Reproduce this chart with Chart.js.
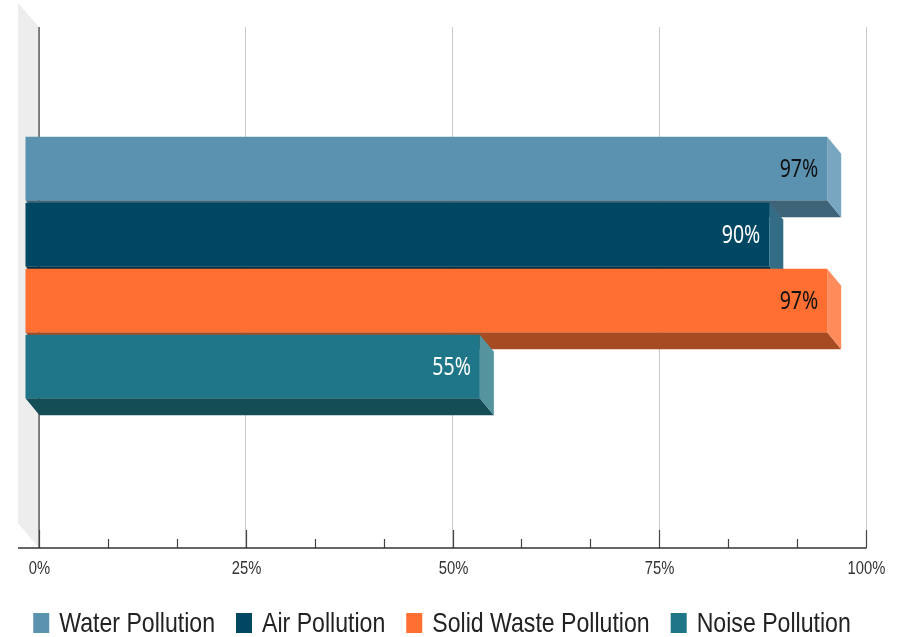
<!DOCTYPE html>
<html>
<head>
<meta charset="utf-8">
<style>
    html, body { margin: 0; padding: 0; background: #fff; }
    canvas { display: block; }
</style>
<script src="https://cdn.jsdelivr.net/npm/chart.js@4/dist/chart.umd.min.js"></script>
</head>
<body>
<canvas id="pollution_chart" width="898" height="637"></canvas>
<script>
const categories = [""];
const series_names = ["Water Pollution", "Air Pollution", "Solid Waste Pollution", "Noise Pollution"];
const series_values = [97, 90, 97, 55];
const tick_labels = ["0%", "25%", "50%", "75%", "100%"];

const front_colors = ["#5b92b0", "#004763", "#ff6f31", "#1f7688"];
const side_colors = ["#78a6c0", "#336d85", "#ff8c5a", "#55939f"];
const bottom_colors = ["#3e6479", "#003043", "#a64b22", "#154d57"];
const label_colors = ["#111111", "#ffffff", "#111111", "#ffffff"];

// 3d look: faces go back by this much, the fronts are moved forward from the axis plane
const depth_x = 14;
const depth_y = 17;
const front_x = -14;
const front_y = -20;

function polygon(ctx, points, color) {
    ctx.fillStyle = color;
    ctx.beginPath();
    points.forEach((p, i) => i == 0 ? ctx.moveTo(p[0], p[1]) : ctx.lineTo(p[0], p[1]));
    ctx.closePath();
    ctx.fill();
}

// no narrow fonts installed, so squeeze the text sideways
function narrow_text(ctx, text, x, y, font, color, align, squeeze) {
    ctx.save();
    ctx.translate(x, y);
    ctx.scale(squeeze, 1);
    ctx.font = font;
    ctx.textAlign = align;
    ctx.textBaseline = "middle";
    ctx.fillStyle = color;
    ctx.fillText(text, 0, 0);
    ctx.restore();
}

function draw_legend(ctx) {
    const font = "28px 'Liberation Sans'";
    const squeeze = 0.825;
    ctx.save();
    ctx.font = font;
    const widths = series_names.map(name => ctx.measureText(name).width * squeeze);
    ctx.restore();

    let total = 0;
    widths.forEach(w => total += 16 + 10 + w);
    total += 21 * (series_names.length - 1);

    let x = 442 - total / 2;
    series_names.forEach((name, i) => {
        ctx.fillStyle = front_colors[i];
        ctx.fillRect(x, 613, 16, 20);
        narrow_text(ctx, name, x + 26, 624.5, font, "#222", "left", squeeze);
        x += 26 + widths[i] + 21;
    });
}

const fake_3d = {
    id: "fake_3d",
    beforeDatasetsDraw(chart) {
        const ctx = chart.ctx;
        const area = chart.chartArea;
        const x_scale = chart.scales.x;

        // side wall
        polygon(ctx, [
            [area.left - 21, area.top - 24],
            [area.left, area.top],
            [area.left, area.bottom],
            [area.left - 21, area.bottom - 25]
        ], "#ededed");

        // redraw the zero line over the wall, then ticks going up from the axis
        ctx.strokeStyle = "#444";
        ctx.lineWidth = 1.2;
        ctx.beginPath();
        ctx.moveTo(area.left, area.top);
        ctx.lineTo(area.left, area.bottom);
        x_scale.ticks.forEach((tick, i) => {
            const x = Math.round(x_scale.getPixelForTick(i)) + 0.5;
            ctx.moveTo(x, area.bottom);
            ctx.lineTo(x, area.bottom - (i % 3 == 0 ? 18 : 9));
            if (i % 3 == 0) {
                narrow_text(ctx, tick_labels[i / 3], x, 569.5, "18px 'Liberation Sans'", "#333", "center", 0.82);
            }
        });
        ctx.stroke();

        ctx.strokeStyle = "#333";
        ctx.lineWidth = 1.5;
        ctx.beginPath();
        ctx.moveTo(area.left - 21, area.bottom);
        ctx.lineTo(area.right + 0.5, area.bottom);
        ctx.stroke();

        draw_legend(ctx);
    },
    // bars are drawn below, one dataset at a time, first one first
    beforeDatasetDraw() {
        return false;
    },
    afterDatasetsDraw(chart) {
        const ctx = chart.ctx;
        series_values.forEach((value, i) => {
            const bar = chart.getDatasetMeta(i).data[0];
            const props = bar.getProps(["x", "y", "base", "height"], true);
            const left = props.base + front_x;
            const right = props.x + front_x;
            const top = props.y - props.height / 2 + front_y;
            const bottom = props.y + props.height / 2 + front_y;

            polygon(ctx, [
                [left, bottom],
                [right, bottom],
                [right + depth_x, bottom + depth_y],
                [left + depth_x, bottom + depth_y]
            ], bottom_colors[i]);
            polygon(ctx, [
                [right, top],
                [right + depth_x, top + depth_y],
                [right + depth_x, bottom + depth_y],
                [right, bottom]
            ], side_colors[i]);

            ctx.save();
            ctx.translate(front_x, front_y);
            bar.draw(ctx);
            ctx.restore();

            narrow_text(ctx, value + "%", right - 9, top + 33, "25px 'Noto Sans'", label_colors[i], "right", 0.78);
        });
    }
};

function carregar_grafico() {
    const canvas_chart = document.getElementById("pollution_chart");

    let datasets = [];
    series_names.forEach((name, i) => {
        datasets.push({
            label: name,
            data: [series_values[i]],
            backgroundColor: front_colors[i],
            borderWidth: 0,
            categoryPercentage: 0.5067,
            barPercentage: 0.96
        });
    });

    new Chart(canvas_chart, {
        type: "bar",
        data: { labels: categories, datasets: datasets },
        plugins: [fake_3d],
        options: {
            indexAxis: "y",
            responsive: false,
            animation: false,
            layout: { padding: { left: 39, right: 32, top: 27, bottom: 89 } },
            scales: {
                x: {
                    min: 0,
                    max: 100,
                    border: { display: false },
                    grid: {
                        drawTicks: false,
                        color: ctx => ctx.index % 3 == 0 ? "#c8c8c8" : "rgba(0,0,0,0)"
                    },
                    ticks: {
                        count: 13,
                        autoSkip: false,
                        display: false
                    }
                },
                y: { display: false }
            },
            plugins: {
                tooltip: { enabled: false },
                legend: { display: false }
            }
        }
    });
}

carregar_grafico();
</script>
</body>
</html>
